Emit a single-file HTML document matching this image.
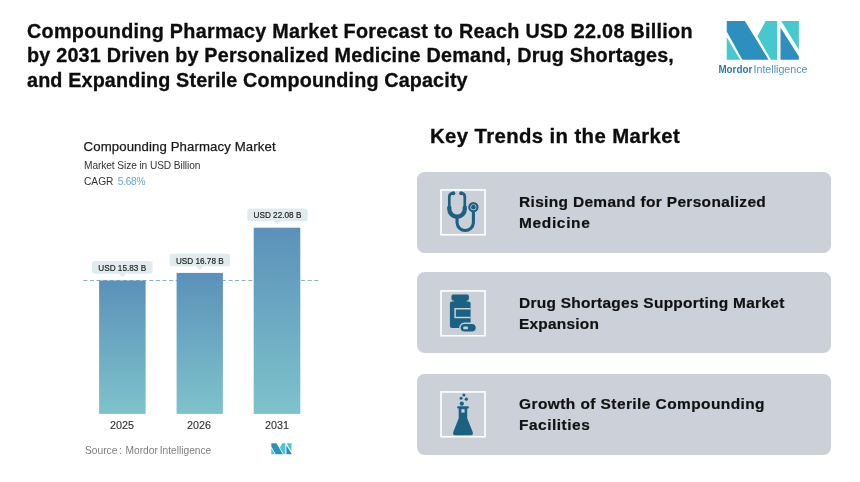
<!DOCTYPE html>
<html lang="en">
<head>
<meta charset="utf-8">
<title>Compounding Pharmacy Market</title>
<style>
*{margin:0;padding:0;box-sizing:border-box}
html,body{width:860px;height:482px;background:#fff;overflow:hidden}
body{position:relative;font-family:"Liberation Sans",sans-serif;color:#111}
.abs{position:absolute;white-space:nowrap}
.t{position:absolute;left:27px;white-space:nowrap;font-weight:700;font-size:19.4px;line-height:24px;color:#0d0d0d;-webkit-text-stroke:.3px #0d0d0d;transform-origin:0 50%;transform:scaleX(1.02)}
#t1{top:19px;letter-spacing:.27px}
#t2{top:43px;letter-spacing:.2px}
#t3{top:68px;letter-spacing:.13px}
.card{position:absolute;left:416.6px;width:414.5px;height:80.8px;border-radius:7.5px;background:#ccd1d9}
.ic{position:absolute;left:440px;width:46px;height:46.6px}
.ct{position:absolute;left:519px;font-weight:700;font-size:15px;line-height:20px;color:#111;-webkit-text-stroke:.2px #111;white-space:nowrap;transform-origin:0 50%}
.kt{position:absolute;left:430px;top:124px;font-weight:700;font-size:19.4px;line-height:24px;letter-spacing:.36px;white-space:nowrap;transform-origin:0 50%;transform:scaleX(1.05);color:#0d0d0d;-webkit-text-stroke:.3px #0d0d0d}
.yr{position:absolute;top:417.8px;width:60px;text-align:center;font-size:11.5px;line-height:14px;color:#333;-webkit-text-stroke:.15px #333;transform:scaleX(.935)}
</style>
</head>
<body>
<div class="t" id="t1">Compounding Pharmacy Market Forecast to Reach USD 22.08 Billion</div>
<div class="t" id="t2">by 2031 Driven by Personalized Medicine Demand, Drug Shortages,</div>
<div class="t" id="t3">and Expanding Sterile Compounding Capacity</div>

<!-- logo -->
<svg class="abs" style="left:710px;top:15px" width="110" height="65" viewBox="-10 0 110 65">
  <polygon points="6.75,6 24.9,6 48.6,44.8 22.3,44.8 6.75,16.6" fill="#2d8fc0"/>
  <polygon points="6.75,22.3 20.2,44.8 6.75,44.8" fill="#45c9cf"/>
  <polygon points="37.4,21.3 45.7,6 57.1,6 57.1,44.8 50.9,44.8" fill="#45c9cf"/>
  <polygon points="61.2,6 78.9,6 78.9,34.8" fill="#45c9cf"/>
  <polygon points="60.5,12.5 78.9,41.5 78.9,44.8 60.5,44.8" fill="#2d8fc0"/>
  <text x="-1.6" y="58" font-family="'Liberation Sans',sans-serif" font-size="10.6" font-weight="700" fill="#2a7ab0" textLength="33.8" lengthAdjust="spacingAndGlyphs">Mordor</text>
  <text x="33.5" y="58" font-family="'Liberation Sans',sans-serif" font-size="10.6" fill="#4f94c2" textLength="54" lengthAdjust="spacingAndGlyphs">Intelligence</text>
</svg>

<!-- chart -->
<div class="abs" id="ch1" style="left:83.6px;top:139px;font-size:13.2px;line-height:16px;letter-spacing:.11px;color:#1a1a1a;-webkit-text-stroke:.25px #1a1a1a">Compounding Pharmacy Market</div>
<div class="abs" id="ch2" style="left:83.8px;top:158.96px;font-size:10.5px;line-height:12px;letter-spacing:-.1px;color:#333;transform-origin:0 50%;transform:scaleX(.97)">Market Size in USD Billion</div>
<div class="abs" id="ch3" style="left:83.8px;top:174.56px;font-size:10.5px;line-height:12px;color:#333;transform-origin:0 50%;transform:scaleX(.97)">CAGR <span style="color:#6aa5c9;margin-left:1.6px;letter-spacing:-.32px">5.68%</span></div>

<svg class="abs" style="left:80px;top:200px" width="250" height="220" viewBox="80 200 250 220">
  <defs><linearGradient id="bg" x1="0" y1="0" x2="0" y2="1"><stop offset="0" stop-color="#5b91ba"/><stop offset="1" stop-color="#7ec3cb"/></linearGradient></defs>
  <line x1="83.3" y1="280.5" x2="318.3" y2="280.5" stroke="#86b1cf" stroke-width="1" stroke-dasharray="4 2.6"/>
  <rect x="99.1" y="280.5" width="46.5" height="133.4" fill="url(#bg)"/>
  <rect x="176.6" y="272.9" width="46.3" height="141.0" fill="url(#bg)"/>
  <rect x="253.7" y="227.7" width="46.6" height="186.2" fill="url(#bg)"/>
  <rect x="92.0" y="261.1" width="60.5" height="12.6" rx="2.6" fill="#e0ebee"/>
  <polygon points="118.5,273.5 126.0,273.5 122.2,277.3" fill="#e0ebee"/>
  <text x="98.30" y="271.1" font-family="'Liberation Sans',sans-serif" font-size="9.8" fill="#222" stroke="#222" stroke-width=".2" textLength="47.8" lengthAdjust="spacingAndGlyphs">USD 15.83 B</text>
  <rect x="169.6" y="253.7" width="60.5" height="12.6" rx="2.6" fill="#e0ebee"/>
  <polygon points="196.0,266.1 203.7,266.1 199.8,269.9" fill="#e0ebee"/>
  <text x="175.90" y="263.7" font-family="'Liberation Sans',sans-serif" font-size="9.8" fill="#222" stroke="#222" stroke-width=".2" textLength="47.8" lengthAdjust="spacingAndGlyphs">USD 16.78 B</text>
  <rect x="247.3" y="208.4" width="60.4" height="12.6" rx="2.6" fill="#e0ebee"/>
  <polygon points="273.7,220.8 281.3,220.8 277.5,224.6" fill="#e0ebee"/>
  <text x="253.55" y="218.4" font-family="'Liberation Sans',sans-serif" font-size="9.8" fill="#222" stroke="#222" stroke-width=".2" textLength="47.8" lengthAdjust="spacingAndGlyphs">USD 22.08 B</text>
</svg>
<div class="yr" style="left:92.4px">2025</div>
<div class="yr" style="left:169.4px">2026</div>
<div class="yr" style="left:247px">2031</div>

<div class="abs" id="src" style="left:85.2px;top:444px;font-size:10.8px;line-height:13px;color:#7e7e7e;word-spacing:-1.1px;transform-origin:0 50%;transform:scaleX(.945)">Source :&nbsp; Mordor Intelligence</div>
<svg class="abs" style="left:271px;top:443px" width="21" height="12" viewBox="5.68 4.94 75 42.3" preserveAspectRatio="none">
  <polygon points="6.75,6 24.9,6 48.6,44.8 22.3,44.8 6.75,16.6" fill="#2d8fc0"/>
  <polygon points="6.75,22.3 20.2,44.8 6.75,44.8" fill="#45c9cf"/>
  <polygon points="37.4,21.3 45.7,6 57.1,6 57.1,44.8 50.9,44.8" fill="#45c9cf"/>
  <polygon points="61.2,6 78.9,6 78.9,34.8" fill="#45c9cf"/>
  <polygon points="60.5,12.5 78.9,41.5 78.9,44.8 60.5,44.8" fill="#2d8fc0"/>
</svg>

<!-- right column -->
<div class="kt" id="kt">Key Trends in the Market</div>

<div class="card" style="top:171.8px"></div>
<div class="card" style="top:272.3px"></div>
<div class="card" style="top:373.9px"></div>

<!-- stethoscope -->
<svg class="ic" style="top:189px" viewBox="0 0 46 46.6" fill="none" stroke="#1a6182" stroke-linecap="round">
  <rect stroke-linecap="butt" x="1.05" y=".95" width="44" height="44.8" fill="#cbd0d8" stroke="#fff" stroke-width="1.6"/>
  <path d="M12.9 4.3 C10.3 4.3 9.3 5.6 9.3 7.8 V19.7 A7.75 7.75 0 0 0 24.8 19.7 V7.8 C24.8 5.6 23.8 4.3 21.6 4.3" stroke-width="2.7"/>
  <circle cx="13.3" cy="4.3" r="2" fill="#1a6182" stroke="none"/>
  <circle cx="21.2" cy="4.3" r="2" fill="#1a6182" stroke="none"/>
  <path d="M9.3 18.6 V20 A7.75 7.75 0 0 0 24.8 20 V18.6" stroke-width="4.3"/>
  <path d="M17.05 28 V34 A8.2 8.2 0 0 0 33.4 34 V23" stroke-width="3.1" stroke-linecap="butt"/>
  <circle cx="33.4" cy="18.15" r="4.1" stroke-width="2.2"/>
  <circle cx="33.4" cy="18.15" r="2.3" fill="#1a6182" stroke="none"/>
</svg>

<!-- pill bottle -->
<svg class="ic" style="top:290px" viewBox="0 0 46 46.6">
  <rect x="1.05" y=".95" width="44" height="44.8" fill="#cbd0d8" stroke="#fff" stroke-width="1.6"/>
  <rect x="11.5" y="4.6" width="17.4" height="6" rx="1.6" fill="#1a6182"/>
  <rect x="13.7" y="9" width="13" height="4" fill="#1a6182"/>
  <rect x="9.9" y="11.5" width="20.7" height="26.4" rx="2" fill="#1a6182"/>
  <path d="M30.6 18.8 H15.1 V27.4 H30.6" fill="none" stroke="#cbd0d8" stroke-width="1.5"/>
  <rect x="19.9" y="33.3" width="16.5" height="9" rx="4.5" fill="#1a6182" stroke="#cbd0d8" stroke-width="1.4"/>
  <rect x="23.3" y="36.4" width="4.6" height="2.8" rx=".5" fill="#cbd0d8"/>
</svg>

<!-- flask -->
<svg class="ic" style="top:391px" viewBox="0 0 46 46.6" fill="#1a6182">
  <rect x="1.05" y=".95" width="44" height="44.8" fill="#cbd0d8" stroke="#fff" stroke-width="1.6"/>
  <circle cx="23.9" cy="3.9" r="1.5"/>
  <circle cx="21.1" cy="7.3" r="1.5"/>
  <circle cx="26.3" cy="8.2" r="1.6"/>
  <circle cx="21.8" cy="12.7" r="2.1"/>
  <rect x="17.1" y="15.3" width="11.8" height="2.3" rx="1"/>
  <path d="M18.7 16.5 H27.2 V27.2 L32.6 40.8 Q33.8 44.3 30.6 44.3 H15.4 Q12.2 44.3 13.4 40.8 L18.7 27.2 Z"/>
  <rect x="21.4" y="18.2" width="3.2" height="3.4" fill="#cbd0d8"/>
</svg>
<div class="ct" id="c1a" style="top:192px;letter-spacing:0.33px;transform:scaleX(1.03)">Rising Demand for Personalized</div>
<div class="ct" id="c1b" style="top:213px;letter-spacing:0.65px;transform:scaleX(1.03)">Medicine</div>
<div class="ct" id="c2a" style="top:293px;letter-spacing:0.27px;transform:scaleX(1.03)">Drug Shortages Supporting Market</div>
<div class="ct" id="c2b" style="top:314px;letter-spacing:0.22px;transform:scaleX(1.03)">Expansion</div>
<div class="ct" id="c3a" style="top:394px;letter-spacing:0.42px;transform:scaleX(1.03)">Growth of Sterile Compounding</div>
<div class="ct" id="c3b" style="top:415px;letter-spacing:0.5px;transform:scaleX(1.03)">Facilities</div>
</body>
</html>
